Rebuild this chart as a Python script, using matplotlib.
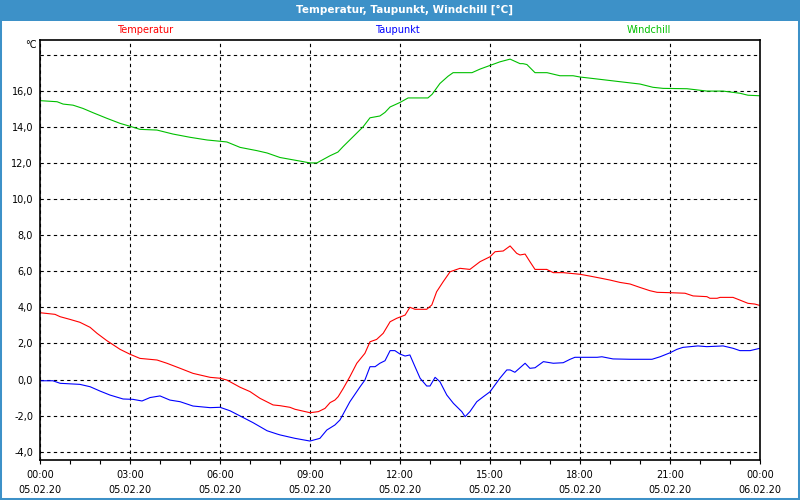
import matplotlib
matplotlib.use("Agg")
import matplotlib.pyplot as plt
from matplotlib.patches import Rectangle
from matplotlib.ticker import MultipleLocator

# Hours since 05.02.20 00:00, values in °C
temp_hours = [0, 0.5, 0.67, 1.0, 1.33, 1.67, 1.9, 2.23, 2.67, 3.0, 3.33, 3.9, 4.23, 4.67,
              5.1, 5.67, 6.0, 6.23, 6.67, 7.0, 7.33, 7.77, 8.0, 8.33, 8.5, 9.0, 9.28, 9.5,
              9.67, 9.83, 9.94, 10.11, 10.33, 10.56, 10.83, 11.0, 11.22, 11.44, 11.67, 11.89,
              12.17, 12.33, 12.5, 12.89, 13.06, 13.22, 13.44, 13.67, 14.0, 14.33, 14.67, 15.0,
              15.17, 15.44, 15.67, 15.89, 16.0, 16.17, 16.33, 16.5, 16.89, 17.11, 17.44, 18.0,
              18.33, 18.67, 19.0, 19.33, 19.67, 20.0, 20.33, 20.57, 21.0, 21.5, 21.77, 22.23,
              22.33, 22.57, 22.67, 23.1, 23.33, 23.6, 23.83, 24.0]
temp_values = [3.7, 3.61, 3.48, 3.33, 3.17, 2.89, 2.56, 2.15, 1.67, 1.4, 1.17, 1.08, 0.9, 0.62,
               0.34, 0.12, 0.07, -0.03, -0.43, -0.67, -1.04, -1.41, -1.45, -1.54, -1.65, -1.84, -1.78, -1.6,
               -1.28, -1.14, -0.95, -0.49, 0.16, 0.9, 1.45, 2.09, 2.22, 2.56, 3.2, 3.39,
               3.57, 4.0, 3.89, 3.89, 4.13, 4.86, 5.42, 5.97, 6.16, 6.1, 6.53, 6.8,
               7.08, 7.12, 7.4, 6.99, 6.9, 6.95, 6.53, 6.1, 6.1, 5.92, 5.92, 5.83,
               5.73, 5.62, 5.51, 5.38, 5.29, 5.1, 4.92, 4.83, 4.81, 4.78, 4.63, 4.59,
               4.5, 4.5, 4.55, 4.55, 4.4, 4.22, 4.18, 4.1]

dew_hours = [0, 0.43, 0.67, 1.33, 1.67, 2.0, 2.33, 2.77, 3.1, 3.4, 3.67, 4.0, 4.33, 4.67,
             5.1, 5.67, 6.0, 6.33, 6.67, 7.1, 7.57, 7.9, 8.0, 8.5, 9.0, 9.33, 9.56, 9.83,
             10.0, 10.33, 10.67, 10.83, 11.0, 11.17, 11.33, 11.5, 11.67, 11.83, 12.0, 12.17,
             12.33, 12.5, 12.67, 12.89, 13.0, 13.17, 13.33, 13.56, 13.78, 14.06, 14.17, 14.33,
             14.56, 14.78, 15.0, 15.33, 15.56, 15.67, 15.83, 16.17, 16.33, 16.5, 16.78, 17.11,
             17.44, 17.67, 17.83, 18.57, 18.73, 19.1, 19.67, 20.4, 20.67, 21.0, 21.23, 21.43,
             21.93, 22.23, 22.77, 23.1, 23.33, 23.67, 24.0]
dew_values = [-0.07, -0.07, -0.21, -0.27, -0.4, -0.64, -0.86, -1.08, -1.1, -1.19, -1.0, -0.91, -1.14, -1.23,
              -1.47, -1.56, -1.54, -1.73, -2.02, -2.39, -2.84, -3.02, -3.07, -3.26, -3.41, -3.26, -2.8, -2.52,
              -2.24, -1.23, -0.4, -0.03, 0.71, 0.71, 0.9, 1.04, 1.6, 1.6, 1.41, 1.3,
              1.36, 0.71, 0.07, -0.36, -0.36, 0.12, -0.12, -0.86, -1.32, -1.78, -2.06, -1.78,
              -1.23, -0.95, -0.68, 0.07, 0.53, 0.53, 0.4, 0.9, 0.62, 0.65, 0.99, 0.9,
              0.93, 1.12, 1.23, 1.23, 1.26, 1.14, 1.12, 1.12, 1.26, 1.48, 1.67, 1.78,
              1.86, 1.82, 1.86, 1.73, 1.6, 1.6, 1.73]

chill_hours = [0, 0.57, 0.77, 1.1, 1.43, 1.77, 2.23, 2.67, 3.0, 3.33, 3.9, 4.43, 5.0, 5.57,
               6.0, 6.23, 6.67, 7.23, 7.57, 8.0, 8.67, 9.0, 9.23, 9.67, 9.93, 10.1, 10.77, 11.0,
               11.33, 11.5, 11.67, 12.0, 12.27, 12.5, 12.93, 13.07, 13.33, 13.6, 13.77, 14.4,
               14.67, 15.0, 15.33, 15.67, 16.0, 16.1, 16.23, 16.5, 16.9, 17.33, 17.77, 18.0,
               18.67, 19.33, 20.0, 20.43, 20.77, 21.57, 22.23, 22.77, 23.33, 23.6, 24.0]
chill_values = [15.45, 15.39, 15.26, 15.2, 15.02, 14.78, 14.47, 14.19, 14.03, 13.86, 13.82, 13.6, 13.42, 13.27,
                13.2, 13.16, 12.86, 12.68, 12.55, 12.3, 12.1, 12.0, 12.0, 12.4, 12.6, 12.9, 14.0, 14.5,
                14.6, 14.8, 15.1, 15.35, 15.6, 15.6, 15.6, 15.8, 16.4, 16.8, 17.0, 17.0,
                17.2, 17.4, 17.6, 17.75, 17.5, 17.5, 17.45, 17.0, 17.0, 16.83, 16.83, 16.76,
                16.63, 16.5, 16.37, 16.19, 16.13, 16.11, 15.98, 15.98, 15.86, 15.75, 15.72]

series_names = ["Temperatur", "Taupunkt", "Windchill"]
series_colors = ["#ff0000", "#0000ff", "#00c000"]

x_tick_hours = [0, 3, 6, 9, 12, 15, 18, 21, 24]
x_tick_labels = ["00:00\n05.02.20", "03:00\n05.02.20", "06:00\n05.02.20", "09:00\n05.02.20",
                 "12:00\n05.02.20", "15:00\n05.02.20", "18:00\n05.02.20", "21:00\n05.02.20",
                 "00:00\n06.02.20"]
y_ticks = [-4, -2, 0, 2, 4, 6, 8, 10, 12, 14, 16, 18]

TITLE = "Temperatur, Taupunkt, Windchill [°C]"
HEADER_BLUE = "#3d91c8"

plt.rcParams['font.family'] = ['DejaVu Sans']

fig = plt.figure(figsize=(8, 5), dpi=100, facecolor="white")
ax = fig.add_axes([0.05, 0.08, 0.90, 0.84])

for hours, values, color in zip([temp_hours, dew_hours, chill_hours],
                                [temp_values, dew_values, chill_values],
                                series_colors):
    ax.plot(hours, values, color=color, linewidth=0.8)

ax.set_xlim(0, 24)
ax.set_ylim(-4.46, 18.81)

ax.set_xticks(x_tick_hours)
ax.set_xticklabels(x_tick_labels, fontsize=7)
for lbl in ax.get_xticklabels():
    lbl.set_linespacing(1.6)
ax.xaxis.set_minor_locator(MultipleLocator(1))
ax.tick_params(axis="x", which="both", direction="out", length=3, width=0.8, pad=4)

ax.set_yticks(y_ticks)
ax.set_yticklabels([("%.1f" % v).replace(".", ",") if v < 18 else "" for v in y_ticks],
                   fontsize=7)
ax.tick_params(axis="y", length=0, pad=5)

ax.grid(True, which="major", color="black", linestyle=(0, (3, 3)), linewidth=0.8)

for spine in ax.spines.values():
    spine.set_linewidth(1.2)
    spine.set_color("black")

# series names above the plot
for name, color, xpos in zip(series_names, series_colors, [145, 397, 649]):
    fig.text(xpos / 800, 1 - 30 / 500, name, color=color, fontsize=7,
             ha="center", va="center")
fig.text(37 / 800, 1 - 45 / 500, "°C", fontsize=7, ha="right", va="center")

# header bar and frame
fig.patches.append(Rectangle((0, 1 - 21 / 500), 1, 21 / 500, transform=fig.transFigure,
                             facecolor=HEADER_BLUE, edgecolor="none", zorder=0))
fig.patches.append(Rectangle((0, 0), 1, 1, transform=fig.transFigure, fill=False,
                             edgecolor=HEADER_BLUE, linewidth=2.9, zorder=0))
fig.text(0.506, 1 - 10 / 500, TITLE, color="white", fontsize=7.5, fontweight="bold",
         ha="center", va="center")

fig.savefig("out.png", dpi=100, facecolor="white")
